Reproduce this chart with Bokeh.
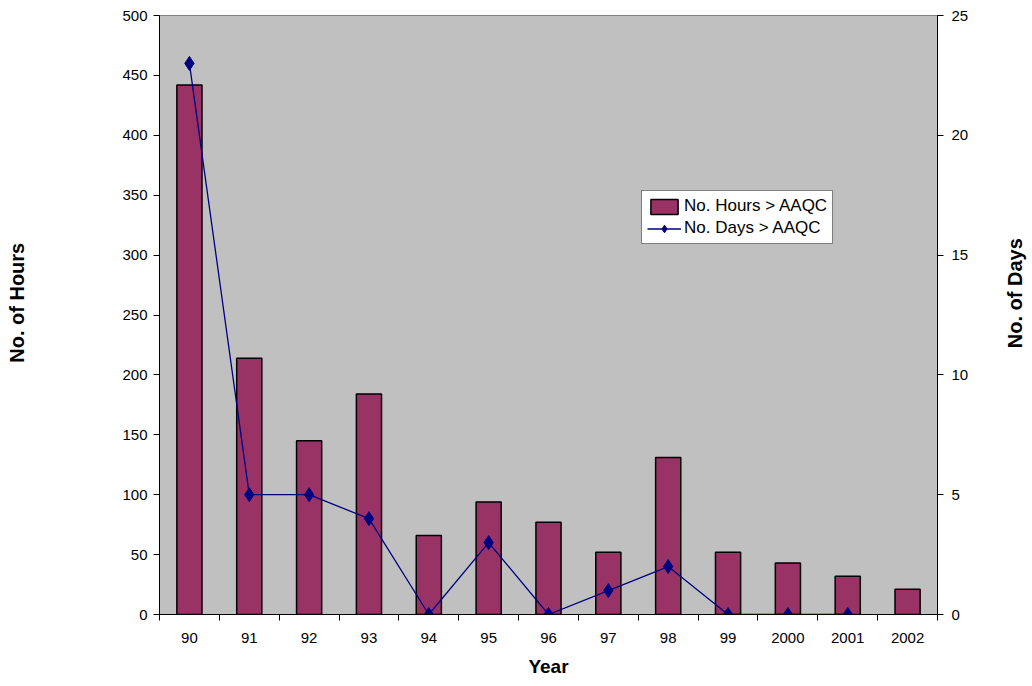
import math
from bokeh.plotting import figure
from bokeh.layouts import row
from bokeh.models import Range1d, LinearAxis, FixedTicker, Legend, LegendItem
from bokeh.core.properties import value
from bokeh.embed import file_html
from bokeh.resources import INLINE

years = ["90", "91", "92", "93", "94", "95", "96", "97", "98", "99", "2000", "2001", "2002"]
hours = [442, 214, 145, 184, 66, 94, 77, 52, 131, 52, 43, 32, 21]
day_years = ["90", "91", "92", "93", "94", "95", "96", "97", "98", "99", "2000", "2001"]
days = [23, 5, 5, 4, 0, 3, 0, 1, 2, 0, 0, 0]
left_title = "No. of Hours"
right_title = "No. of Days"

FONT = "Liberation Sans"
n = len(years)
centers = [i + 0.5 for i in range(n)]
day_x = [years.index(y) + 0.5 for y in day_years]

LW, RW, H = 36, 30, 686

p = figure(width=1032 - LW - RW, height=H, output_backend="svg", toolbar_location=None,
           x_range=Range1d(0, n), y_range=Range1d(0, 500),
           min_border_left=159 - LW, min_border_right=95 - RW, min_border_top=15, min_border_bottom=72)
p.background_fill_color = "#C0C0C0"
p.border_fill_color = "white"
p.outline_line_color = "#808080"
p.outline_line_width = 1
p.grid.visible = False
p.extra_y_ranges = {"days": Range1d(0, 25)}

bars = p.vbar(x=centers, top=hours, width=0.42, bottom=0, fill_color="#993366",
              line_color="black", line_width=1.5)
ln = p.line(day_x, days, y_range_name="days", line_color="#000080", line_width=1.3)
sc = p.scatter(day_x, days, y_range_name="days", marker="diamond", size=14,
               fill_color="#000080", line_color="#000080")

def style(ax):
    ax.axis_line_color = "black"
    ax.major_label_text_font = FONT
    ax.major_label_text_font_size = "15px"
    ax.major_label_text_color = "black"
    ax.axis_label_text_font = FONT
    ax.axis_label_text_font_style = "bold"
    ax.axis_label_text_font_size = "19px"
    ax.axis_label_text_color = "black"

# x axis
xa = p.xaxis[0]
style(xa)
xa.ticker = FixedTicker(ticks=centers, minor_ticks=list(range(n + 1)))
xa.major_label_overrides = {c: y for c, y in zip(centers, years)}
xa.major_tick_line_color = None
xa.minor_tick_in = 0
xa.minor_tick_out = 6
xa.minor_tick_line_color = "black"
xa.major_label_standoff = 12
xa.axis_label = "Year"
xa.axis_label_standoff = 10

# left axis
ya = p.yaxis[0]
style(ya)
ya.ticker = FixedTicker(ticks=list(range(0, 501, 50)))
ya.minor_tick_line_color = None
ya.major_tick_in = 0
ya.major_tick_out = 6
ya.major_tick_line_color = "black"
ya.major_label_standoff = 6

# right axis
ra = LinearAxis(y_range_name="days", ticker=FixedTicker(ticks=list(range(0, 26, 5))))
style(ra)
ra.minor_tick_line_color = None
ra.major_tick_in = 0
ra.major_tick_out = 6
ra.major_tick_line_color = "black"
ra.major_label_standoff = 8
p.add_layout(ra, "right")

legend = Legend(items=[LegendItem(label="No. Hours > AAQC", renderers=[bars]),
                       LegendItem(label="No. Days > AAQC", renderers=[ln, sc])],
                location=(482, 370), orientation="vertical",
                label_text_font=FONT, label_text_font_size="17px", label_text_color="black",
                border_line_color="black", border_line_width=1,
                background_fill_color="white", background_fill_alpha=1,
                padding=5, spacing=2, margin=0, glyph_width=34, glyph_height=19,
                label_height=19, label_standoff=3)
p.add_layout(legend, "center")

# narrow side strips carrying the rotated axis titles
def title_strip(w, txt, cx, cy):
    f = figure(width=w, height=H, output_backend="svg", toolbar_location=None,
               x_range=Range1d(0, w), y_range=Range1d(0, H),
               x_axis_location=None, y_axis_location=None,
               min_border=0, min_border_left=0, min_border_right=0,
               min_border_top=0, min_border_bottom=0)
    f.outline_line_color = None
    f.grid.visible = False
    f.background_fill_color = "white"
    f.border_fill_color = "white"
    f.text(x=[cx], y=[H - cy], text=[txt], angle=math.pi / 2,
           text_font=value(FONT), text_font_style="bold", text_font_size="20px",
           text_color="black", text_align="center", text_baseline="middle")
    return f

lf = title_strip(LW, left_title, 16, 329)
rf = title_strip(RW, right_title, 12, 318)

layout = row(lf, p, rf, spacing=0)
open("out.html", "w").write(file_html(layout, INLINE))
